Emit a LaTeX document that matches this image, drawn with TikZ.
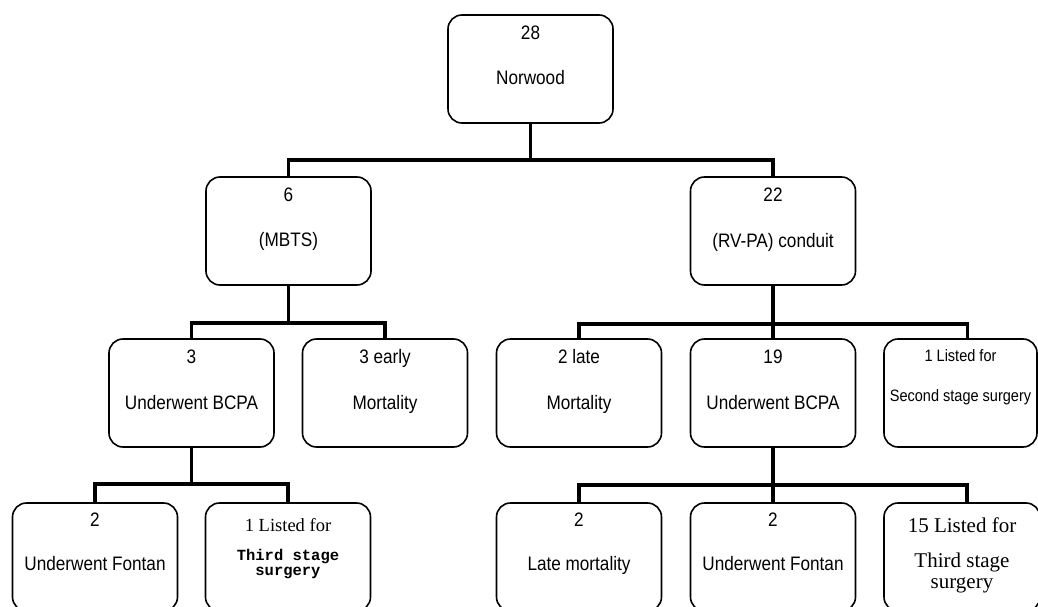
\documentclass[tikz,border=0pt]{standalone}
\usepackage{fontspec}
\setmainfont{Liberation Sans}[FakeStretch=0.88]
\newfontfamily\timesfont{Liberation Serif}
\newfontfamily\courfont{Liberation Mono}
\usetikzlibrary{positioning}
\begin{document}
\begin{tikzpicture}[
  x=1pt, y=1pt,
  block/.style={rectangle, rounded corners=14pt, draw, line width=1.6pt, minimum width=165pt, minimum height=108pt},
  txt/.style={inner sep=0pt, font=\fontsize{19.5}{22}\selectfont},
  smalltxt/.style={inner sep=0pt, font=\fontsize{16.5}{19}\selectfont},
  serif/.style={inner sep=0pt, font=\timesfont\fontsize{18.5}{21}\selectfont},
  bigserif/.style={inner sep=0pt, font=\timesfont\fontsize{21}{24}\selectfont},
  oddtxt/.style={inner sep=0pt, font=\courfont\bfseries\fontsize{15.5}{18}\selectfont},
  link/.style={line width=3.6pt, line join=miter},
  on grid, node distance=162pt
]
\useasboundingbox (0,0) rectangle (1038,606);

% boxes
\node[block] (norwood) at (530.5,537) {};
\node[block, below left=162pt and 242pt of norwood] (mbts) {};
\node[block, below right=162pt and 242.5pt of norwood] (rvpa) {};
\node[block, below left=162pt and 97pt of mbts] (bcpaA) {};
\node[block, below right=162pt and 96.5pt of mbts] (earlymort) {};
\node[block, below left=162pt and 194pt of rvpa] (latemort) {};
\node[block, below=162pt of rvpa] (bcpaB) {};
\node[block, below right=162pt and 187.5pt of rvpa, minimum width=153pt] (second) {};
\node[block, below left=164pt and 96.5pt of bcpaA] (fontanA) {};
\node[block, below right=164pt and 96.5pt of bcpaA] (thirdA) {};
\node[block, below=164pt of latemort] (latemortB) {};
\node[block, below=164pt of bcpaB] (fontanB) {};
\node[block, below right=164pt and 189pt of bcpaB, minimum width=156pt] (thirdB) {};

% texts
\node[txt, below=11pt of norwood.north] (norwood-n) {28};
\node[txt, below=56pt of norwood.north] (norwood-t) {Norwood};
\node[txt, below=11pt of mbts.north] (mbts-n) {6};
\node[txt, below=56pt of mbts.north] (mbts-t) {(MBTS)};
\node[txt, below=11pt of rvpa.north] (rvpa-n) {22};
\node[txt, below=57pt of rvpa.north] (rvpa-t) {(RV-PA) conduit};
\node[txt, below=11pt of bcpaA.north] (bcpaA-n) {3};
\node[txt, below=57pt of bcpaA.north] (bcpaA-t) {Underwent BCPA};
\node[txt, below=11pt of earlymort.north] (earlymort-n) {3 early};
\node[txt, below=57pt of earlymort.north] (earlymort-t) {Mortality};
\node[txt, below=11pt of latemort.north] (latemort-n) {2 late};
\node[txt, below=57pt of latemort.north] (latemort-t) {Mortality};
\node[txt, below=11pt of bcpaB.north] (bcpaB-n) {19};
\node[txt, below=57pt of bcpaB.north] (bcpaB-t) {Underwent BCPA};
\node[smalltxt, below=11pt of second.north] (second-n) {1 Listed for};
\node[smalltxt, below=51pt of second.north] (second-t) {Second stage surgery};
\node[txt, below=10pt of fontanA.north] (fontanA-n) {2};
\node[txt, below=54pt of fontanA.north] (fontanA-t) {Underwent Fontan};
\node[serif, below=16pt of thirdA.north] (thirdA-n) {1 Listed for};
\node[oddtxt, below=47pt of thirdA.north] (thirdA-t) {Third stage};
\node[oddtxt, below=65pt of thirdA.north] (thirdA-s) {surgery};
\node[txt, below=10pt of latemortB.north] (latemortB-n) {2};
\node[txt, below=54pt of latemortB.north] (latemortB-t) {Late mortality};
\node[txt, below=10pt of fontanB.north] (fontanB-n) {2};
\node[txt, below=54pt of fontanB.north] (fontanB-t) {Underwent Fontan};
\node[bigserif, below=15pt of thirdB.north] (thirdB-n) {15 Listed for};
\node[bigserif, below=51pt of thirdB.north] (thirdB-t) {Third stage};
\node[bigserif, below=75pt of thirdB.north] (thirdB-s) {surgery};

% connectors
\draw[link] (norwood.south) -- ++(0,-36) -| (mbts.north);
\draw[link] (norwood.south) -- ++(0,-36) -| (rvpa.north);
\draw[link] (mbts.south) -- ++(0,-37) -| (bcpaA.north);
\draw[link] (mbts.south) -- ++(0,-37) -| (earlymort.north);
\draw[link] (rvpa.south) -- ++(0,-38) -| (latemort.north);
\draw[link] (rvpa.south) -- (bcpaB.north);
\draw[link] (rvpa.south) -- ++(0,-38) -| ([xshift=7pt]second.north);
\draw[link] (bcpaA.south) -- ++(0,-36) -| (fontanA.north);
\draw[link] (bcpaA.south) -- ++(0,-36) -| (thirdA.north);
\draw[link] (bcpaB.south) -- ++(0,-37) -| (latemortB.north);
\draw[link] (bcpaB.south) -- (fontanB.north);
\draw[link] (bcpaB.south) -- ++(0,-37) -| ([xshift=5pt]thirdB.north);
\end{tikzpicture}
\end{document}
